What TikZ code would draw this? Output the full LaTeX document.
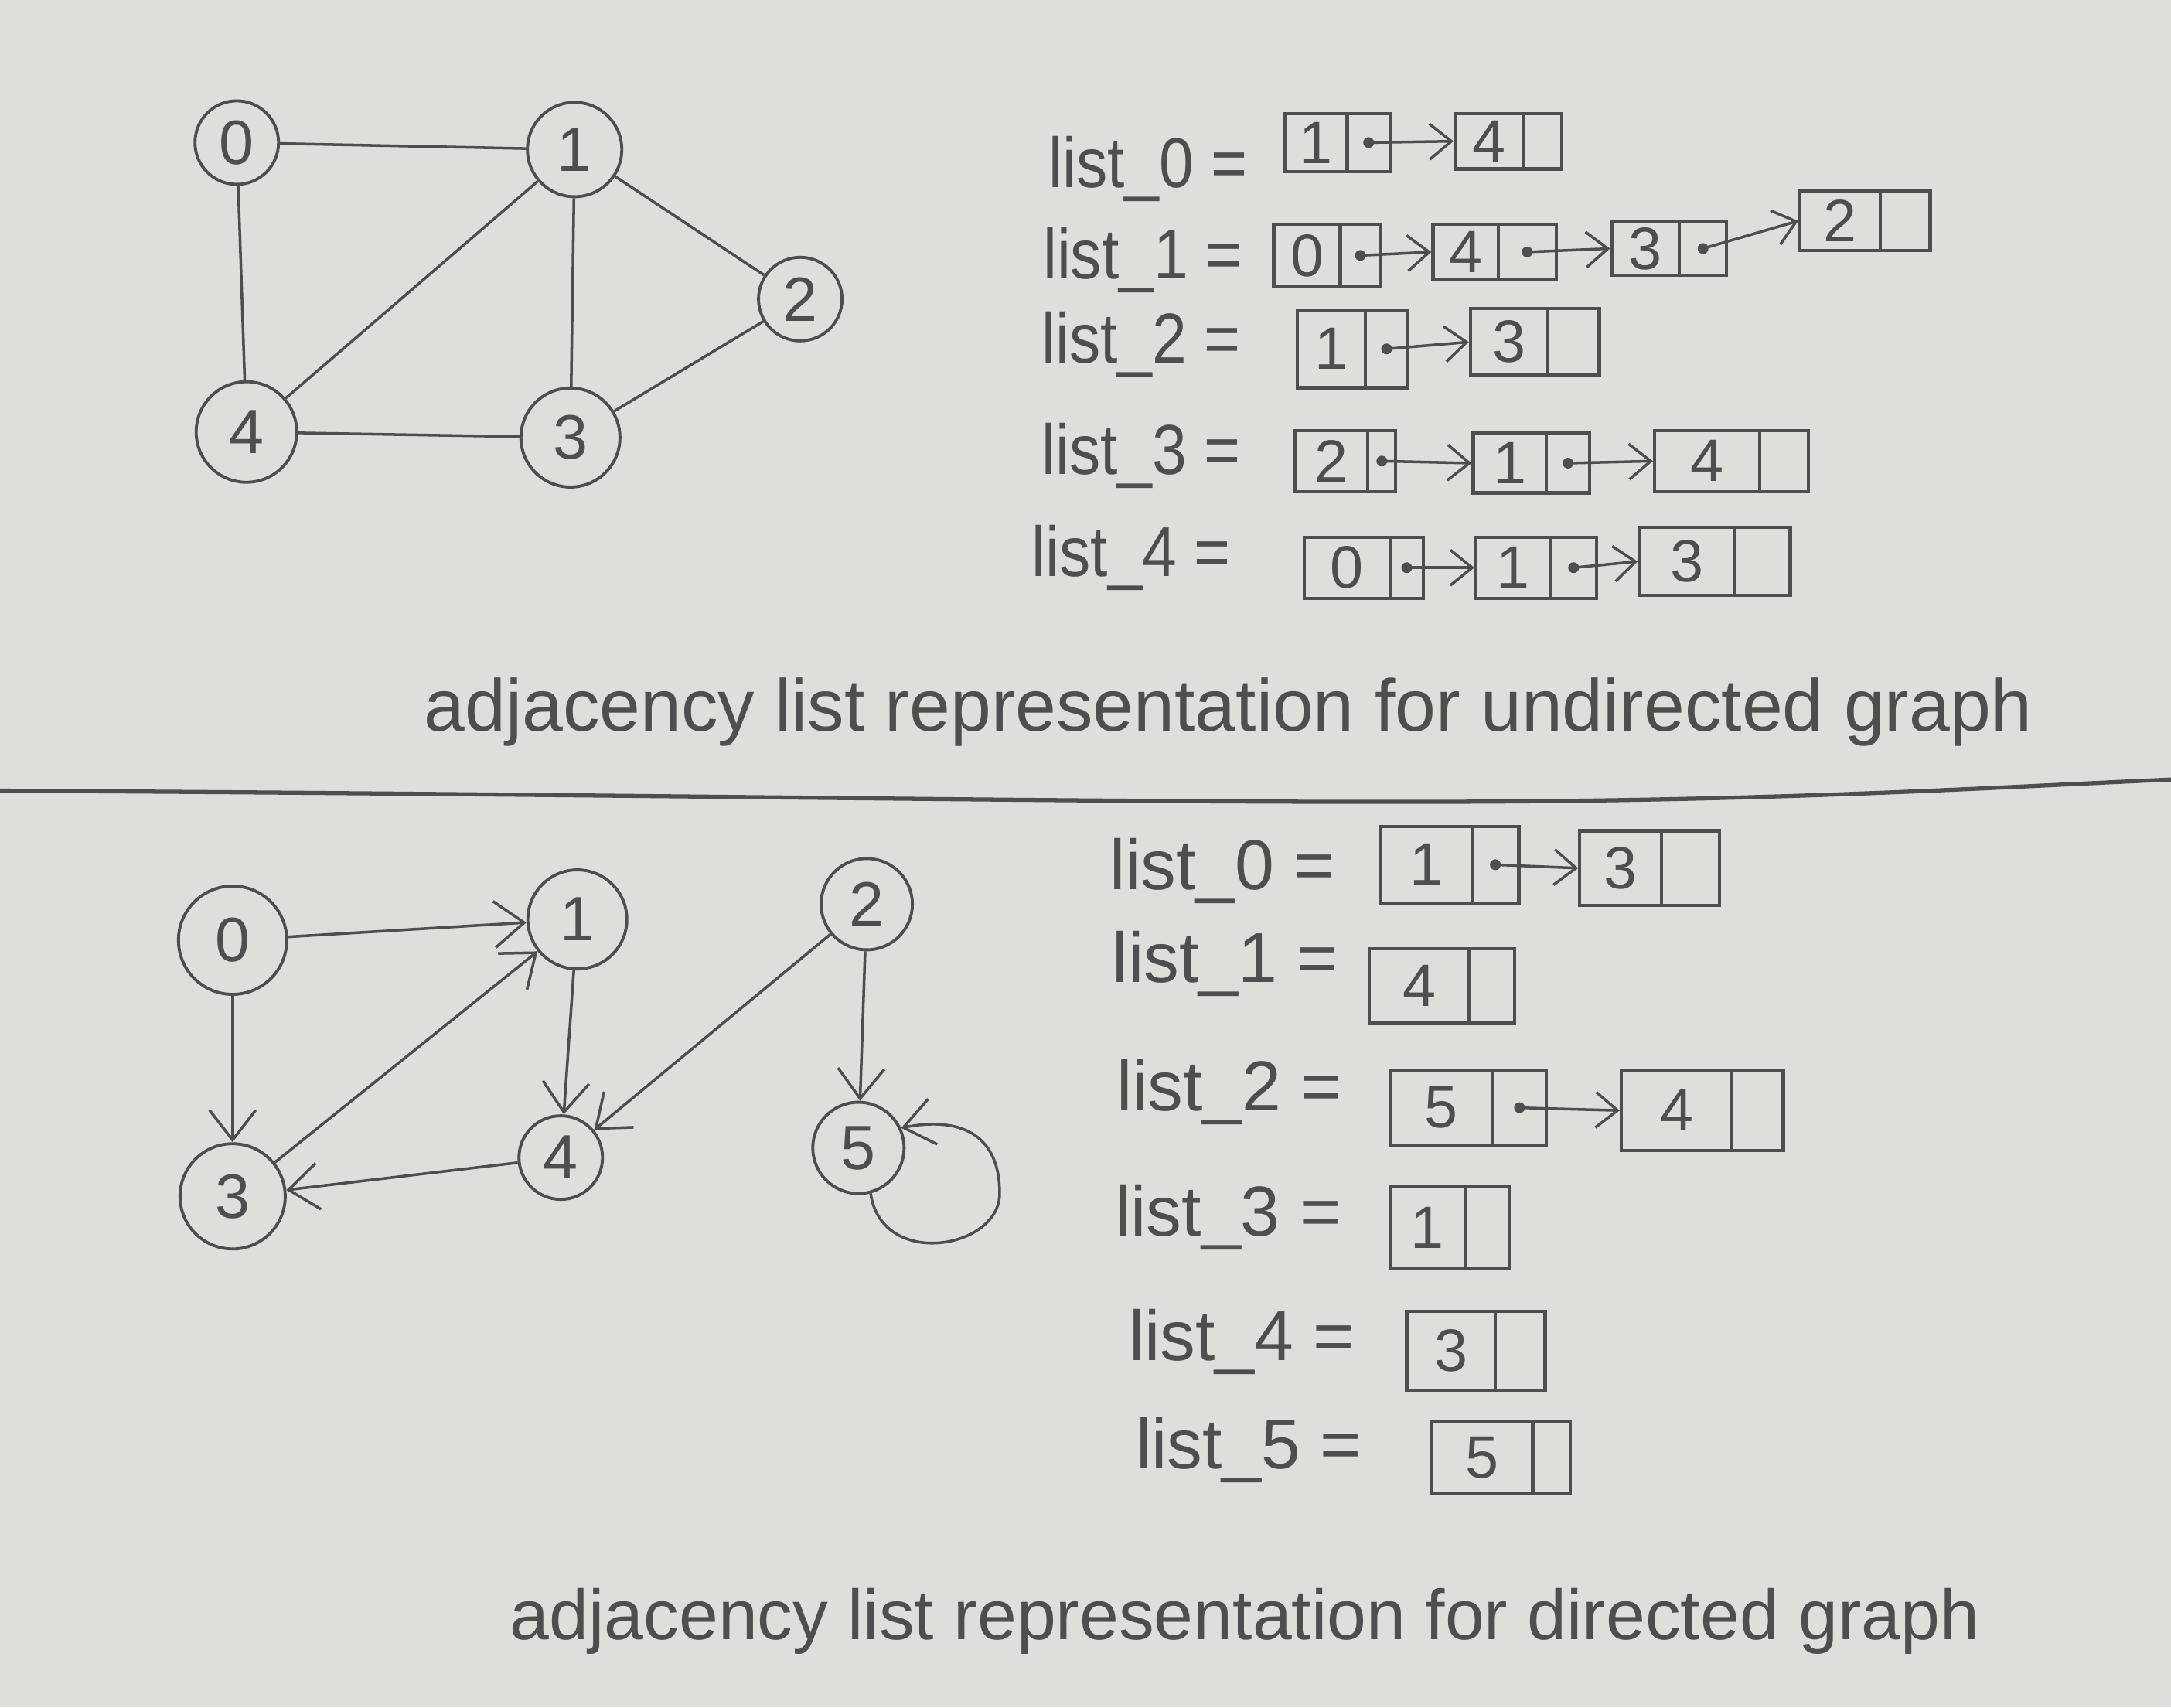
\documentclass[tikz,border=0pt]{standalone}
\usepackage{fontspec}
\setmainfont{Liberation Sans}
\usetikzlibrary{arrows.meta}
\definecolor{paper}{RGB}{222,222,219}
\definecolor{ink}{RGB}{78,78,78}
\newcommand{\myunit}{0.0179cm}
% name, x-left, x-divider, x-right, y-top, y-bottom, label
\newcommand{\llcell}[7]{%
  \node[valcell, minimum width={(#3-#2)*\myunit}, minimum height={(#6-#5)*\myunit}] (#1) at ({(#2+#3)/2},{(#5+#6)/2}) {#7};
  \node[ptrcell, minimum width={(#4-#3)*\myunit}, minimum height={(#6-#5)*\myunit}] (#1p) at ({(#3+#4)/2},{(#5+#6)/2}) {};
}
\newcommand{\narrow}[1]{\scalebox{0.88}[1]{#1}}
\begin{document}
\begin{tikzpicture}[x=0.0179cm, y=-0.0179cm,
  vert/.style={circle, draw=ink, line width=1.1pt, inner sep=0pt, text=ink, font=\fontsize{23}{23}\selectfont},
  edge/.style={draw=ink, line width=1pt},
  arr/.style={edge, -{Straight Barb[length=11pt,width=17pt]}},
  larr/.style={edge, -{Straight Barb[length=8pt,width=13pt]}},
  valcell/.style={rectangle, draw=ink, line width=1.2pt, inner sep=0pt, text=ink, font=\fontsize{22}{22}\selectfont},
  ptrcell/.style={rectangle, draw=ink, line width=1.2pt, inner sep=0pt},
  dotn/.style={circle, fill=ink, inner sep=0pt, minimum size=0.14cm},
  lab/.style={anchor=west, text=ink, font=\fontsize{26}{26}\selectfont, inner sep=0pt},
  captext/.style={anchor=base west, text=ink, font=\fontsize{27}{27}\selectfont, inner sep=0pt}]
\fill[paper] (0,0) rectangle (1568,1233);
\useasboundingbox (0,0) rectangle (1568,1233);

% ---------- undirected graph ----------
\node[vert, minimum size=1.08cm] (t0) at (171,103) {0};
\node[vert, minimum size=1.22cm] (t1) at (415,108) {1};
\node[vert, minimum size=1.08cm] (t2) at (578,216) {2};
\node[vert, minimum size=1.30cm] (t4) at (178,312) {4};
\node[vert, minimum size=1.28cm] (t3) at (412,316) {3};
\draw[edge] (t0) -- (t1);
\draw[edge] (t0) -- (t4);
\draw[edge] (t1) -- (t4);
\draw[edge] (t1) -- (t3);
\draw[edge] (t1) -- (t2);
\draw[edge] (t2) -- (t3);
\draw[edge] (t4) -- (t3);

% ---------- undirected lists ----------
\node[lab] (ul0) at (757,122) {\narrow{list\_0 =}};
\llcell{UA0}{928}{973}{1004}{82}{124}{1}
\llcell{UA1}{1051}{1100}{1128}{82}{122}{4}
\node[dotn] (UA0d) at (UA0p) {};
\draw[larr] (UA0d.center) -- (UA1.west);

\node[lab] (ul1) at (753,188) {\narrow{list\_1 =}};
\llcell{UB0}{920}{968}{997}{162}{207}{0}
\llcell{UB1}{1035}{1082}{1124}{162}{202}{4}
\llcell{UB2}{1164}{1213}{1247}{160}{199}{3}
\llcell{UB3}{1300}{1358}{1394}{138}{181}{2}
\node[dotn] (UB0d) at (UB0p) {};
\node[dotn] (UB1d) at (UB1p) {};
\node[dotn] (UB2d) at (UB2p) {};
\draw[larr] (UB0d.center) -- (UB1.west);
\draw[larr] (UB1d.center) -- (UB2.west);
\draw[larr] (UB2d.center) -- (UB3.west);

\node[lab] (ul2) at (752,249) {\narrow{list\_2 =}};
\llcell{UC0}{937}{986}{1017}{224}{280}{1}
\llcell{UC1}{1062}{1118}{1155}{223}{271}{3}
\node[dotn] (UC0d) at (UC0p) {};
\draw[larr] (UC0d.center) -- (UC1.west);

\node[lab] (ul3) at (752,329) {\narrow{list\_3 =}};
\llcell{UD0}{935}{988}{1008}{311}{355}{2}
\llcell{UD1}{1064}{1117}{1148}{313}{356}{1}
\llcell{UD2}{1195}{1271}{1306}{311}{355}{4}
\node[dotn] (UD0d) at (UD0p) {};
\node[dotn] (UD1d) at (UD1p) {};
\draw[larr] (UD0d.center) -- (UD1.west);
\draw[larr] (UD1d.center) -- (UD2.west);

\node[lab] (ul4) at (745,403) {\narrow{list\_4 =}};
\llcell{UE0}{942}{1004}{1028}{388}{432}{0}
\llcell{UE1}{1066}{1120}{1153}{388}{432}{1}
\llcell{UE2}{1184}{1253}{1293}{381}{430}{3}
\node[dotn] (UE0d) at (UE0p) {};
\node[dotn] (UE1d) at (UE1p) {};
\draw[larr] (UE0d.center) -- (UE1.west);
\draw[larr] (UE1d.center) -- (UE2.west);

\node[captext] (cap1) at (306,528) {adjacency list representation for undirected graph};

% ---------- separator ----------
\coordinate (sepL) at (0,571);
\coordinate (sepM) at (1060,579);
\coordinate (sepR) at (1568,563);
\draw[ink, line width=1.5pt] (sepL) .. controls (500,574) and (800,580) .. (sepM) .. controls (1300,578) and (1450,568) .. (sepR);

% ---------- directed graph ----------
\node[vert, minimum size=1.40cm] (b0) at (168,679) {0};
\node[vert, minimum size=1.28cm] (b1) at (417,664) {1};
\node[vert, minimum size=1.18cm] (b2) at (626,653) {2};
\node[vert, minimum size=1.36cm] (b3) at (168,864) {3};
\node[vert, minimum size=1.08cm] (b4) at (405,836) {4};
\node[vert, minimum size=1.18cm] (b5) at (620,829) {5};
\draw[arr] (b0) -- (b1);
\draw[arr] (b0) -- (b3);
\draw[arr] (b1) -- (b4);
\draw[arr] (b3) -- (b1);
\draw[arr] (b4) -- (b3);
\draw[arr] (b2) -- (b4);
\draw[arr] (b2) -- (b5);
\coordinate (loopr) at (722,862);
\draw[arr] (b5.285) .. controls +(8,55) and +(0,40) .. (loopr) .. controls +(0,-45) and +(40,-8) .. (b5.25);

% ---------- directed lists ----------
\node[lab] (dl0) at (801,629) {list\_0 =};
\llcell{DA0}{997}{1063}{1097}{597}{652}{1}
\llcell{DA1}{1141}{1200}{1242}{600}{654}{3}
\node[dotn] (DA0d) at (DA0p) {};
\draw[larr] (DA0d.center) -- (DA1.west);

\node[lab] (dl1) at (803,696) {list\_1 =};
\llcell{DB0}{989}{1061}{1094}{685}{739}{4}

\node[lab] (dl2) at (806,789) {list\_2 =};
\llcell{DC0}{1004}{1078}{1117}{773}{827}{5}
\llcell{DC1}{1171}{1251}{1288}{773}{831}{4}
\node[dotn] (DC0d) at (DC0p) {};
\draw[larr] (DC0d.center) -- (DC1.west);

\node[lab] (dl3) at (805,879) {list\_3 =};
\llcell{DD0}{1004}{1058}{1090}{857}{916}{1}

\node[lab] (dl4) at (815,969) {list\_4 =};
\llcell{DE0}{1016}{1080}{1116}{947}{1004}{3}

\node[lab] (dl5) at (820,1047) {list\_5 =};
\llcell{DF0}{1034}{1107}{1134}{1027}{1079}{5}

\node[captext, font=\fontsize{26}{26}\selectfont] (cap2) at (368,1184) {adjacency list representation for directed graph};
\end{tikzpicture}
\end{document}
